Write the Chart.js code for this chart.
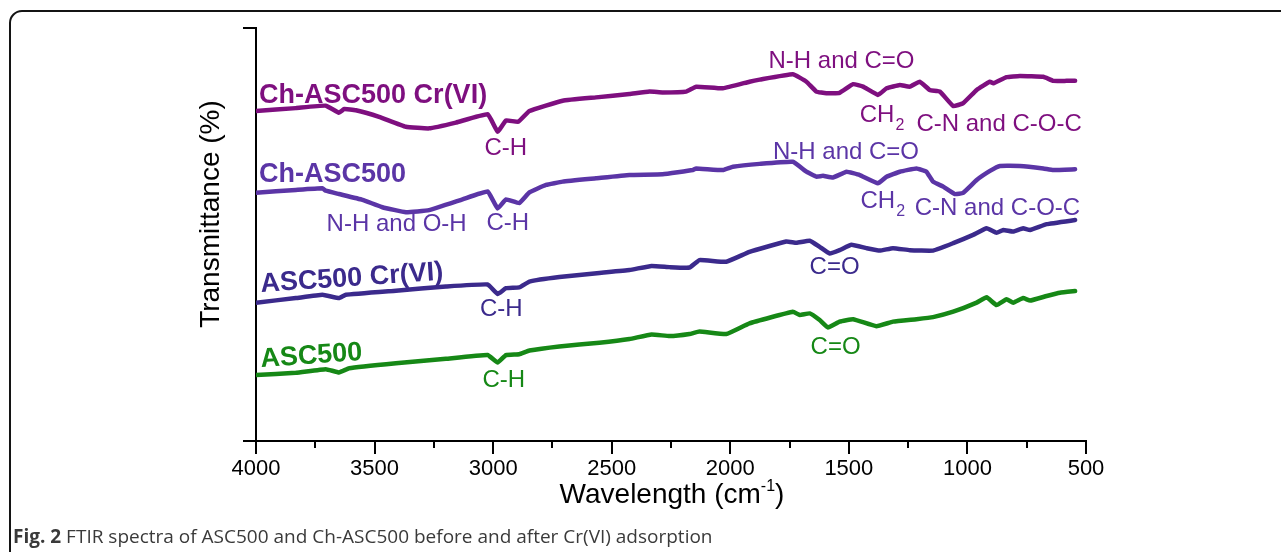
<!DOCTYPE html>
<html>
<head>
<meta charset="utf-8">
<script src="https://cdn.jsdelivr.net/npm/chart.js@4.4.1/dist/chart.umd.min.js"></script>
<style>
  html, body { margin: 0; padding: 0; background: #fff; }
  #wrap { position: relative; width: 1281px; height: 552px; overflow: hidden; }
  #frame { position: absolute; left: 9px; top: 10px; width: 1400px; height: 700px;
           border: 2px solid #141414; border-radius: 13px; box-sizing: border-box; }
  #c { position: absolute; left: 0; top: 0; }
  #cap { position: absolute; left: 13px; top: 523px; font: 19px "Open Sans", sans-serif;
         color: #3a3a3a; white-space: nowrap; }
</style>
</head>
<body>
<div id="wrap">
  <div id="frame"></div>
  <canvas id="c" width="1281" height="552"></canvas>
  <div id="cap"><b>Fig. 2</b> FTIR spectra of ASC500 and Ch-ASC500 before and after Cr(VI) adsorption</div>
</div>
<script>
// ---- spectra (wavenumber in cm-1, transmittance in offset arbitrary %) ----
const wnChCr = [4000,3832,3706,3650,3628,3579,3481,3368,3270,3157,3023,2981,2946,2894,2847,2707,2566,2425,2341,2286,2186,2144,2031,1919,1876,1736,1679,1637,1595,1539,1482,1440,1377,1341,1285,1243,1201,1159,1116,1060,1018,961,905,891,835,779,680,638,582,546];
const tChCr  = [79.9,80.6,81.2,79.5,80.4,80.1,78.5,76.1,75.7,77.1,79.1,74.9,77.6,77.3,79.9,82.4,83.2,84.0,84.6,84.4,84.6,85.8,85.4,87.0,87.5,88.8,87.0,84.6,84.2,84.3,86.4,85.8,83.8,85.4,86.2,85.8,87.0,85.0,84.6,81.1,81.8,85.0,87.0,86.6,88.1,88.4,88.2,87.2,87.2,87.2];

const wnCh = [4000,3832,3720,3706,3650,3551,3467,3368,3270,3129,3023,2981,2946,2890,2847,2777,2707,2566,2425,2285,2158,2144,2031,1989,1876,1736,1679,1637,1609,1567,1510,1454,1377,1341,1285,1215,1173,1145,1102,1053,1018,961,905,863,779,680,638,546];
const tCh  = [60.1,60.8,61.2,60.6,59.8,58.4,56.6,55.4,55.9,58.5,60.4,56.3,58.5,57.6,60.2,62.0,62.8,63.6,64.4,64.6,65.6,66.0,65.6,66.4,67.1,67.6,65.2,64.0,64.2,63.8,65.2,64.4,62.4,64.0,65.2,66.0,65.2,62.8,61.6,59.8,60.1,63.2,65.4,66.6,66.6,66.0,65.6,65.8];

const wnAscCr = [4000,3832,3720,3650,3621,3410,3199,3023,2981,2946,2890,2847,2721,2552,2425,2332,2256,2172,2130,2017,1919,1764,1721,1665,1623,1581,1539,1489,1426,1370,1314,1243,1145,1060,976,919,877,849,807,765,736,666,546];
const tAscCr  = [33.5,34.6,35.4,34.6,35.4,36.4,37.4,37.9,35.6,37.0,37.2,38.6,39.7,40.7,41.4,42.4,42.1,42.0,43.8,43.4,45.8,48.3,48.0,48.5,47.0,45.4,46.2,47.5,46.7,46.1,46.7,46.2,46.1,47.9,49.9,51.5,50.4,51.1,50.7,51.5,51.1,52.5,53.5];

const wnAsc = [4000,3832,3706,3650,3607,3410,3199,3023,2981,2946,2890,2847,2721,2552,2425,2332,2256,2172,2130,2017,1919,1736,1707,1665,1623,1588,1539,1482,1384,1314,1215,1145,1060,961,919,877,835,807,765,736,666,610,546];
const tAsc  = [16.0,16.5,17.4,16.6,17.6,18.8,19.9,20.8,19.0,20.8,21.0,21.9,22.9,23.8,24.7,25.8,25.4,25.9,26.5,25.9,28.5,31.3,30.5,30.9,29.3,27.5,28.9,29.5,27.8,28.9,29.5,30.0,31.3,33.5,34.8,32.9,34.3,33.5,34.6,34.0,35.1,35.9,36.3];

const seriesNames  = ['Ch-ASC500 Cr(VI)', 'Ch-ASC500', 'ASC500 Cr(VI)', 'ASC500'];
const seriesColors = ['#7e0f7f', '#5b35a6', '#3b2a8c', '#168816'];
const xTicks = [4000, 3500, 3000, 2500, 2000, 1500, 1000, 500];

// band assignments, anchored in (wavenumber, transmittance) units
const peakLabels = [
  { s: 0, text: 'C-H',           wn: 2947, t: 69.2, align: 'center' },
  { s: 0, text: 'N-H and C=O',   wn: 1531, t: 90.2, align: 'center' },
  { s: 0, text: 'CH', sub: '2',  wn: 1454, t: 77.3, align: 'left' },
  { s: 0, text: 'C-N and C-O-C', wn: 1215, t: 75.1, align: 'left' },
  { s: 1, text: 'N-H and O-H',   wn: 3407, t: 50.8, align: 'center' },
  { s: 1, text: 'C-H',           wn: 2938, t: 51.1, align: 'center' },
  { s: 1, text: 'N-H and C=O',   wn: 1512, t: 68.4, align: 'center' },
  { s: 1, text: 'CH', sub: '2',  wn: 1451, t: 56.3, align: 'left' },
  { s: 1, text: 'C-N and C-O-C', wn: 1222, t: 54.7, align: 'left' },
  { s: 2, text: 'C-H',           wn: 2966, t: 30.3, align: 'center' },
  { s: 2, text: 'C=O',           wn: 1560, t: 40.4, align: 'center' },
  { s: 3, text: 'C-H',           wn: 2955, t: 13.1, align: 'center' },
  { s: 3, text: 'C=O',           wn: 1556, t: 21.1, align: 'center' }
];
// series name placement (left end of baseline) and tilt in degrees
const nameWn  = [3987, 3987, 3979, 3979];
const nameT   = [81.8, 62.8, 36.1, 17.9];
const nameRot = [0, 0, -3.8, -4.0];

const FONT = '"Liberation Sans", Arial, sans-serif';

function pts(wn, t) { return wn.map((w, i) => ({ x: w, y: t[i] })); }
const spectra = [pts(wnChCr, tChCr), pts(wnCh, tCh), pts(wnAscCr, tAscCr), pts(wnAsc, tAsc)];

const decor = {
  id: 'decor',
  afterDraw(chart) {
    const ctx = chart.ctx;
    const xs = chart.scales.x, ys = chart.scales.y;
    const area = chart.chartArea;
    ctx.save();
    // y-axis end ticks (pointing outward) and minor x ticks
    ctx.strokeStyle = '#000';
    ctx.lineWidth = 2;
    ctx.beginPath();
    ctx.moveTo(area.left - 13, area.top); ctx.lineTo(area.left, area.top);
    ctx.moveTo(area.left - 13, area.bottom); ctx.lineTo(area.left, area.bottom);
    for (let v = 3750; v > 500; v -= 500) {
      const px = Math.round(xs.getPixelForValue(v));
      ctx.moveTo(px, area.bottom); ctx.lineTo(px, area.bottom + 7);
    }
    ctx.stroke();

    // axis titles
    ctx.fillStyle = '#000';
    ctx.textBaseline = 'alphabetic';
    ctx.save();
    ctx.translate(219, 214);
    ctx.rotate(-Math.PI / 2);
    ctx.font = '28px ' + FONT;
    ctx.textAlign = 'center';
    ctx.fillText('Transmittance (%)', 0, 0);
    ctx.restore();

    const big = '28px ' + FONT, small = '16px ' + FONT;
    ctx.font = big; const w1 = ctx.measureText('Wavelength (cm').width;
    ctx.font = small; const w2 = ctx.measureText('-1').width;
    ctx.font = big; const w3 = ctx.measureText(')').width;
    let x0 = 672 - (w1 + w2 + w3) / 2;
    const by = 503;
    ctx.textAlign = 'left';
    ctx.font = big; ctx.fillText('Wavelength (cm', x0, by);
    ctx.font = small; ctx.fillText('-1', x0 + w1, by - 12);
    ctx.font = big; ctx.fillText(')', x0 + w1 + w2, by);

    // series names
    ctx.font = 'bold 27px ' + FONT;
    seriesNames.forEach((name, i) => {
      ctx.save();
      ctx.translate(xs.getPixelForValue(nameWn[i]), ys.getPixelForValue(nameT[i]));
      ctx.rotate(nameRot[i] * Math.PI / 180);
      ctx.fillStyle = seriesColors[i];
      ctx.textAlign = 'left';
      ctx.fillText(name, 0, 0);
      ctx.restore();
    });

    // band labels
    peakLabels.forEach(p => {
      const px = xs.getPixelForValue(p.wn), py = ys.getPixelForValue(p.t);
      ctx.fillStyle = seriesColors[p.s];
      ctx.font = '24px ' + FONT;
      ctx.textAlign = p.align;
      ctx.fillText(p.text, px, py);
      if (p.sub) {
        const w = ctx.measureText(p.text).width;
        ctx.font = '16px ' + FONT;
        ctx.textAlign = 'left';
        ctx.fillText(p.sub, px + w + 1, py + 8);
      }
    });
    ctx.restore();
  }
};

new Chart(document.getElementById('c'), {
  type: 'line',
  data: {
    datasets: spectra.map((d, i) => ({
      label: seriesNames[i],
      data: d,
      borderColor: seriesColors[i],
      backgroundColor: seriesColors[i],
      borderWidth: 4.5,
      pointRadius: 0,
      tension: 0.1,
      borderJoinStyle: 'round',
      borderCapStyle: 'round',
      fill: false
    }))
  },
  options: {
    responsive: false,
    animation: false,
    devicePixelRatio: 1,
    layout: { padding: { left: 0, top: 28, right: 195, bottom: 0 } },
    plugins: { legend: { display: false }, tooltip: { enabled: false } },
    scales: {
      x: {
        type: 'linear', min: 500, max: 4000, reverse: true,
        afterBuildTicks: s => { s.ticks = xTicks.map(v => ({ value: v })); },
        afterFit: s => { s.height = 111; },
        grid: { display: true, drawOnChartArea: false, drawTicks: true, tickLength: 13, color: '#000', lineWidth: 2 },
        border: { display: true, color: '#000', width: 2 },
        ticks: { color: '#000', font: { family: FONT, size: 22 }, padding: 2, maxRotation: 0, autoSkip: false,
                 callback: v => String(v) }
      },
      y: {
        min: 0, max: 100,
        afterFit: s => { s.width = 256; },
        grid: { display: false },
        border: { display: true, color: '#000', width: 2 },
        ticks: { display: false }
      }
    }
  },
  plugins: [decor]
});
</script>
</body>
</html>
